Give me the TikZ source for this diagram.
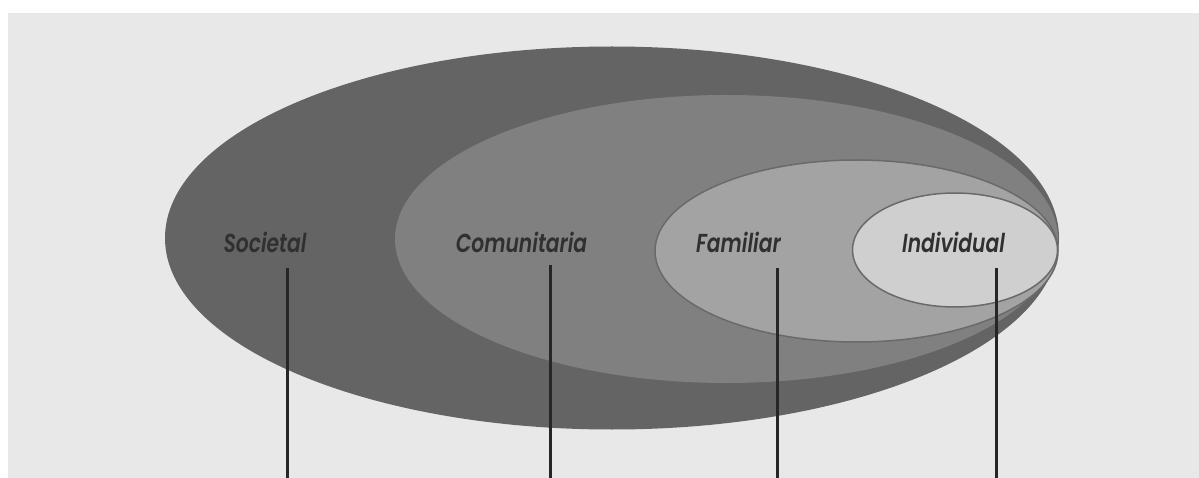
\documentclass[tikz,border=0pt]{standalone}
\usepackage{fontspec}
\usepackage{graphicx}
\newfontfamily\labfont{Poppins SemiBold Italic}
\usetikzlibrary{shapes.geometric}
\definecolor{bgc}{HTML}{E8E8E8}
\definecolor{socc}{HTML}{646464}
\definecolor{comc}{HTML}{808080}
\definecolor{famc}{HTML}{A3A3A3}
\definecolor{indc}{HTML}{CFCFCF}
\definecolor{edgec}{HTML}{6A6A6A}
\definecolor{txtc}{HTML}{303030}
\newcommand{\lbltxt}[1]{\scalebox{0.78}[1]{#1}}
\tikzset{
  ring/.style={ellipse, inner sep=0pt, outer sep=0pt},
  lab/.style={anchor=base, text=txtc, inner sep=0pt, font=\labfont\fontsize{26}{26}\selectfont},
  stem/.style={draw=black!85, line width=3pt}
}
\begin{document}
\begin{tikzpicture}[x=1pt,y=-1pt]
\useasboundingbox (0,0) rectangle (1199,478);
\fill[white] (0,0) rectangle (1199,478);
\fill[bgc] (8,13) rectangle (1199,478);
\node[ring, fill=socc, minimum width=894pt, minimum height=383pt] (soc) at (612,238) {};
\node[ring, fill=comc, minimum width=663pt, minimum height=288pt] (com) at (726.5,239) {};
\node[ring, fill=famc, draw=edgec, line width=1.5pt, minimum width=403pt, minimum height=182pt] (fam) at (856.5,251) {};
\node[ring, fill=indc, draw=edgec, line width=1.5pt, minimum width=205pt, minimum height=114pt] (ind) at (955,250) {};
\node[lab] (tsoc) at (265,253) {\lbltxt{Societal}};
\node[lab] (tcom) at (521.5,253) {\lbltxt{Comunitaria}};
\node[lab] (tfam) at (738.5,253) {\lbltxt{Familiar}};
\node[lab] (tind) at (953.5,253) {\lbltxt{Individual}};
\coordinate (a1) at (287,268); \coordinate (b1) at (287,478);
\coordinate (a2) at (550,265); \coordinate (b2) at (550,478);
\coordinate (a3) at (777,268); \coordinate (b3) at (777,478);
\coordinate (a4) at (996,268); \coordinate (b4) at (996,478);
\draw[stem] (a1) -- (b1);
\draw[stem] (a2) -- (b2);
\draw[stem] (a3) -- (b3);
\draw[stem] (a4) -- (b4);
\end{tikzpicture}
\end{document}
